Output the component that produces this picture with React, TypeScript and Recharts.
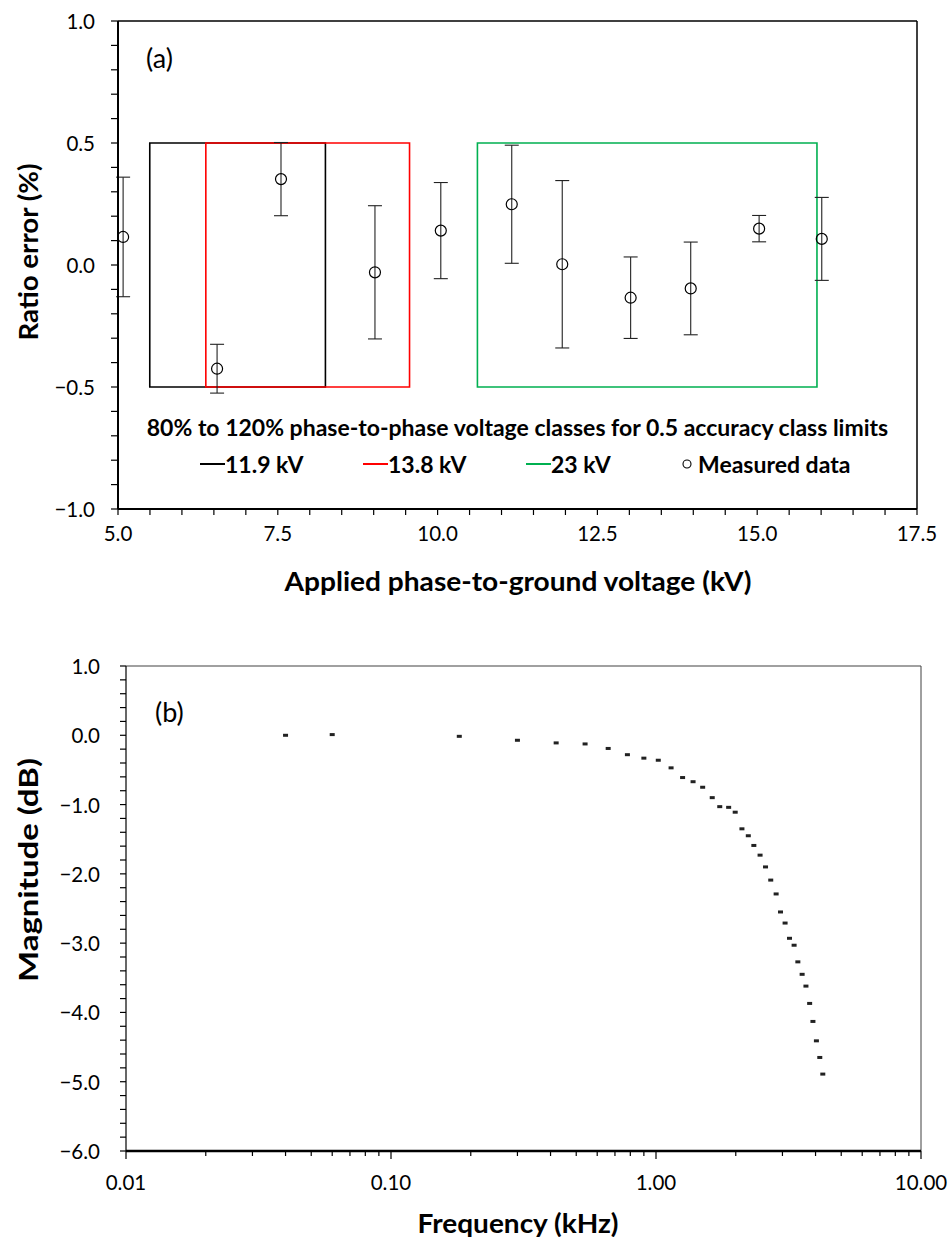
import React from 'react';
import {
  ScatterChart,
  Scatter,
  XAxis,
  YAxis,
  ErrorBar,
  ReferenceArea,
  ReferenceLine,
  Legend,
  Label,
  Customized,
} from 'recharts';

const FONT = "Lato, 'Open Sans', sans-serif";

// ---------- Panel (a): ratio error vs applied phase-to-ground voltage ----------
const appliedVoltageKV = [5.08, 6.55, 7.55, 9.02, 10.05, 11.16, 11.95, 13.02, 13.96, 15.03, 16.01];
const ratioErrorPct = [0.115, -0.425, 0.352, -0.03, 0.141, 0.249, 0.003, -0.134, -0.096, 0.149, 0.107];
const ratioErrorUnc = [0.245, 0.1, 0.15, 0.273, 0.197, 0.242, 0.343, 0.167, 0.19, 0.054, 0.17];

const classNames = ['11.9 kV', '13.8 kV', '23 kV'];
const classLowKV = [5.497, 6.374, 10.623];
const classHighKV = [8.245, 9.561, 15.935];
const classColors = ['#000000', '#FF0000', '#00B050'];
const accuracyLimit = 0.5;

const xMajorA = [5, 7.5, 10, 12.5, 15, 17.5];
const yMajorA = [-1, -0.5, 0, 0.5, 1];

// ---------- Panel (b): magnitude vs frequency ----------
const freqKHz = [
  0.04, 0.06, 0.181, 0.3, 0.42, 0.54, 0.66, 0.78, 0.9, 1.02, 1.14, 1.26, 1.38, 1.5, 1.63, 1.74, 1.88,
  1.99, 2.11, 2.23, 2.34, 2.47, 2.59, 2.71, 2.84, 2.95, 3.07, 3.19, 3.32, 3.43, 3.56, 3.68, 3.8, 3.91,
  4.03, 4.15, 4.26,
];
const magnitudeDB = [
  0.0, 0.01, -0.015, -0.072, -0.11, -0.125, -0.19, -0.28, -0.33, -0.36, -0.47, -0.61, -0.67, -0.75,
  -0.9, -1.03, -1.04, -1.11, -1.35, -1.45, -1.59, -1.73, -1.9, -2.09, -2.29, -2.55, -2.71, -2.93,
  -3.03, -3.27, -3.45, -3.62, -3.87, -4.13, -4.41, -4.65, -4.89,
];

const xMajorB = [0.01, 0.1, 1, 10];
const yMajorB = [1, 0, -1, -2, -3, -4, -5, -6];

// ---------- tick helpers ----------
const range = (start: number, end: number, step: number) => {
  const out: number[] = [];
  const n = Math.round((end - start) / step);
  for (let i = 0; i <= n; i++) out.push(Math.round((start + i * step) * 1000) / 1000);
  return out;
};
const logTicks = (majors: number[]) => {
  const out: number[] = [];
  majors.forEach((m, i) => {
    out.push(m);
    if (i < majors.length - 1) for (let k = 2; k <= 9; k++) out.push(Math.round(m * k * 1000) / 1000);
  });
  return out;
};

const xTicksA = range(5, 17.5, 0.5);
const yTicksA = range(-1, 1, 0.1);
const xTicksB = logTicks(xMajorB);
const yTicksB = range(-6, 1, 0.2);

const isMajor = (v: number, majors: number[]) => majors.some((m) => Math.abs(m - v) < 1e-6);
const fmt1 = (v: number) => (v < -1e-9 ? '\u2212' : '') + Math.abs(v).toFixed(1);
const fmt2 = (v: number) => v.toFixed(2);

const TICK_FS = 20.5;

const XTick = (p: any) => {
  const { x, y, payload, majors, fmt, majorLen, minorLen, labelDy } = p;
  const v = payload.value;
  const major = isMajor(v, majors);
  return (
    <g>
      <line x1={x} x2={x} y1={y} y2={y + (major ? majorLen : minorLen)} stroke="#000" strokeWidth={1.2} />
      {major && (
        <text x={x} y={y + labelDy} textAnchor="middle" dominantBaseline="central" fontSize={TICK_FS} fontFamily={FONT} fill="#000">
          {fmt(v)}
        </text>
      )}
    </g>
  );
};

const YTick = (p: any) => {
  const { x, y, payload, majors, fmt, majorLen, minorLen, labelDx } = p;
  const v = payload.value;
  const major = isMajor(v, majors);
  return (
    <g>
      <line x1={x - (major ? majorLen : minorLen)} x2={x} y1={y} y2={y} stroke="#000" strokeWidth={1.2} />
      {major && (
        <text x={x - labelDx} y={y} textAnchor="end" dominantBaseline="central" fontSize={TICK_FS} fontFamily={FONT} fill="#000">
          {fmt(v)}
        </text>
      )}
    </g>
  );
};

const axisTitle = (text: string, x: number, y: number, rotate: boolean, len: number) => () => (
  <text
    x={x}
    y={y}
    textAnchor="middle"
    dominantBaseline="central"
    fontSize={27}
    fontWeight={700}
    fontFamily={FONT}
    fill="#000"
    textLength={len}
    lengthAdjust="spacingAndGlyphs"
    transform={rotate ? `rotate(-90 ${x} ${y})` : undefined}
  >
    {text}
  </text>
);

const legendLeft = [200, 363, 526, 681];
const LEG_FS = 23;

const LegendA = () => (
  <div style={{ position: 'relative', width: 951, height: 620, pointerEvents: 'none', fontFamily: FONT, fontWeight: 700, color: '#000' }}>
    <div style={{ position: 'absolute', left: 118, width: 799, top: 412, textAlign: 'center', fontSize: LEG_FS, lineHeight: '30px', whiteSpace: 'nowrap' }}>
      80% to 120% phase-to-phase voltage classes for 0.5 accuracy class limits
    </div>
    {classNames.map((n, i) => (
      <div key={n} style={{ position: 'absolute', left: legendLeft[i], top: 449, display: 'flex', alignItems: 'center', fontSize: LEG_FS, lineHeight: '30px', whiteSpace: 'nowrap' }}>
        <span style={{ display: 'inline-block', width: 25, height: 2, background: classColors[i] }} />
        <span>{n}</span>
      </div>
    ))}
    <div style={{ position: 'absolute', left: legendLeft[3], top: 449, display: 'flex', alignItems: 'center', fontSize: LEG_FS, lineHeight: '30px', whiteSpace: 'nowrap' }}>
      <svg width={12} height={12} style={{ marginRight: 5 }}>
        <circle cx={6} cy={6} r={4} fill="none" stroke="#000" strokeWidth={1.1} />
      </svg>
      <span>Measured data</span>
    </div>
  </div>
);

const dataA = appliedVoltageKV.map((x, i) => ({ x, y: ratioErrorPct[i], err: ratioErrorUnc[i] }));
const dataB = freqKHz.map((x, i) => ({ x, y: magnitudeDB[i] }));

const PanelLabel = ({ text, x, y }: { text: string; x: number; y: number }) => (
  <text x={x} y={y} dominantBaseline="central" fontSize={27} fontFamily={FONT} fill="#000">
    {text}
  </text>
);

export default function App() {
  return (
    <div style={{ position: 'absolute', left: 0, top: 0, width: 951, height: 1237, background: '#fff' }}>
      <ScatterChart width={951} height={620} margin={{ top: 21, right: 34, bottom: 0, left: 0 }}>
        <XAxis
          type="number"
          dataKey="x"
          domain={[5, 17.5]}
          ticks={xTicksA}
          interval={0}
          tickSize={0}
          tickMargin={0}
          tickLine={false}
          height={111}
          allowDataOverflow
          axisLine={{ stroke: '#000', strokeWidth: 2 }}
          tick={(p: any) => <XTick {...p} majors={xMajorA} fmt={fmt1} majorLen={6} minorLen={6} labelDy={24} />}
        >
          <Label content={axisTitle('Applied phase-to-ground voltage (kV)', 518, 580, false, 467)} />
        </XAxis>
        <YAxis
          type="number"
          dataKey="y"
          domain={[-1, 1]}
          ticks={yTicksA}
          interval={0}
          tickSize={0}
          tickMargin={0}
          tickLine={false}
          width={118}
          allowDataOverflow
          axisLine={{ stroke: '#000', strokeWidth: 2 }}
          tick={(p: any) => <YTick {...p} majors={yMajorA} fmt={fmt1} majorLen={7} minorLen={7} labelDx={23} />}
        >
          <Label content={axisTitle('Ratio error (%)', 27, 252, true, 177)} />
        </YAxis>
        <ReferenceLine y={1} stroke="#000" strokeWidth={1.5} />
        <ReferenceLine x={17.5} stroke="#000" strokeWidth={1.5} />
        {classNames.map((n, i) => (
          <ReferenceArea
            key={n}
            x1={classLowKV[i]}
            x2={classHighKV[i]}
            y1={-accuracyLimit}
            y2={accuracyLimit}
            fill="none"
            fillOpacity={0}
            stroke={classColors[i]}
            strokeWidth={1.6}
          />
        ))}
        <Scatter
          name="Measured data"
          data={dataA}
          isAnimationActive={false}
          shape={(p: any) => <circle cx={p.cx} cy={p.cy} r={5.5} fill="none" stroke="#000" strokeWidth={1.2} />}
        >
          <ErrorBar dataKey="err" direction="y" width={7} stroke="#222" strokeWidth={1.1} />
        </Scatter>
        <Legend
          layout="horizontal"
          verticalAlign="middle"
          align="center"
          wrapperStyle={{ position: 'absolute', left: 0, top: 0, width: 951, height: 620 }}
          content={() => <LegendA />}
        />
        <Customized component={<PanelLabel text="(a)" x={146} y={57} />} />
      </ScatterChart>

      <ScatterChart width={951} height={617} margin={{ top: 46, right: 30, bottom: 0, left: 0 }}>
        <XAxis
          type="number"
          dataKey="x"
          scale="log"
          domain={[0.01, 10]}
          ticks={xTicksB}
          interval={0}
          tickSize={0}
          tickMargin={0}
          tickLine={false}
          height={86}
          allowDataOverflow
          axisLine={{ stroke: '#000', strokeWidth: 2.5 }}
          tick={(p: any) => <XTick {...p} majors={xMajorB} fmt={fmt2} majorLen={8} minorLen={5} labelDy={31} />}
        >
          <Label content={axisTitle('Frequency (kHz)', 518, 602, false, 201)} />
        </XAxis>
        <YAxis
          type="number"
          dataKey="y"
          domain={[-6, 1]}
          ticks={yTicksB}
          interval={0}
          tickSize={0}
          tickMargin={0}
          tickLine={false}
          width={126}
          allowDataOverflow
          axisLine={{ stroke: '#000', strokeWidth: 1.2 }}
          tick={(p: any) => <YTick {...p} majors={yMajorB} fmt={fmt1} majorLen={6} minorLen={6} labelDx={26} />}
        >
          <Label content={axisTitle('Magnitude (dB)', 27, 250, true, 224)} />
        </YAxis>
        <ReferenceLine y={1} stroke="#808080" strokeWidth={1.5} />
        <ReferenceLine x={10} stroke="#404040" strokeWidth={1} />
        <Scatter
          name="Magnitude"
          data={dataB}
          isAnimationActive={false}
          shape={(p: any) => (
            <g>
              <rect x={p.cx - 2.5} y={p.cy - 1.5} width={5} height={3} fill="#222" />
            </g>
          )}
        />
        <Customized component={<PanelLabel text="(b)" x={155} y={91} />} />
      </ScatterChart>
    </div>
  );
}
